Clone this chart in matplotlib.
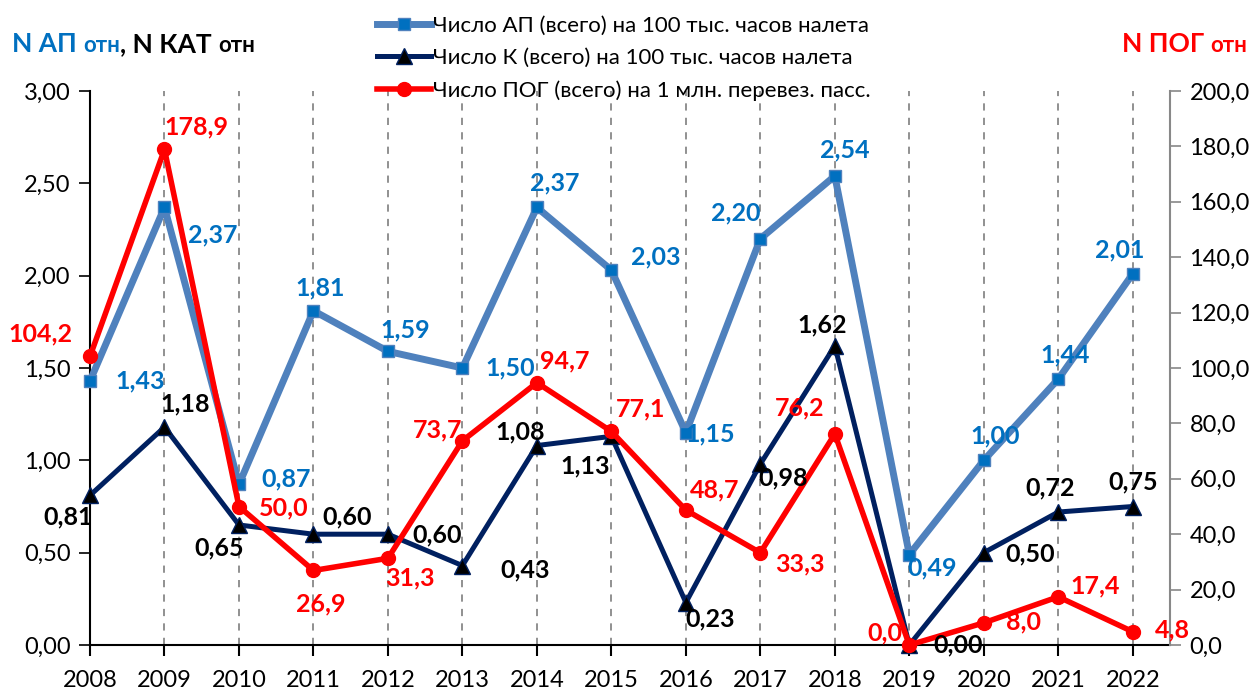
import matplotlib.pyplot as plt
from matplotlib.ticker import FuncFormatter, MultipleLocator

years = list(range(2008, 2023))
n_ap = [1.43, 2.37, 0.87, 1.81, 1.59, 1.50, 2.37, 2.03, 1.15, 2.20, 2.54, 0.49, 1.00, 1.44, 2.01]
n_kat = [0.81, 1.18, 0.65, 0.60, 0.60, 0.43, 1.08, 1.13, 0.23, 0.98, 1.62, 0.00, 0.50, 0.72, 0.75]
n_pog = [104.2, 178.9, 50.0, 26.9, 31.3, 73.7, 94.7, 77.1, 48.7, 33.3, 76.2, 0.0, 8.0, 17.4, 4.8]

# смещения подписей (в пикселях)
off_ap = [(50, 0), (48, -28), (47, 5), (7, 23), (17, 21), (48, 0), (18, 24), (44, 13), (24, -1),
          (-25, 26), (10, 26), (23, -13), (11, 24), (7, 24), (-13, 24)]
off_kat = [(-22, -22), (21, 23), (-20, -23), (34, 17), (49, -1), (63, -4), (-17, 14), (-26, -30),
           (24, -16), (23, -14), (-13, 21), (49, 0), (46, -1), (-8, 24), (0, 25)]
off_pog = [(-50, 22), (32, 23), (45, -1), (7, -33), (22, -20), (-25, 11), (28, 22), (29, 23),
           (29, 20), (40, -11), (-35, 26), (-24, 12), (40, 1), (37, 11), (40, 2)]

plt.rcParams['font.family'] = ['Lato', 'DejaVu Sans']

fig = plt.figure(figsize=(12.58, 6.9), dpi=100)
ax = fig.add_axes([90 / 1258, 1 - 645 / 690, (1170 - 90) / 1258, (645 - 91) / 690])
ax2 = ax.twinx()

ax.set_xlim(2008, 2022.5)
ax.set_ylim(0, 3)
ax2.set_ylim(0, 200)
ax.yaxis.set_major_locator(MultipleLocator(0.5))
ax2.yaxis.set_major_locator(MultipleLocator(20))
ax.yaxis.set_major_formatter(FuncFormatter(lambda v, p: f'{v:.2f}'.replace('.', ',')))
ax2.yaxis.set_major_formatter(FuncFormatter(lambda v, p: f'{v:.1f}'.replace('.', ',')))
ax.set_xticks(years)
ax.tick_params(axis='x', labelsize=17, length=8, width=1.5, pad=10)
ax.tick_params(axis='y', labelsize=17, length=8, width=1.2, pad=6)
ax2.tick_params(axis='y', labelsize=17, length=8, width=1.2, pad=6, color='#888888')

for y in years[1:]:
    ax.axvline(y, color='#888888', linestyle=(0, (4, 4)), linewidth=1.3, zorder=0)

ax.spines['top'].set_visible(False)
ax2.spines['top'].set_visible(False)
ax.spines['left'].set_linewidth(1.5)
ax.spines['bottom'].set_linewidth(1.5)
ax2.spines['left'].set_visible(False)
ax2.spines['bottom'].set_visible(False)
ax2.spines['right'].set_color('#888888')
ax2.spines['right'].set_linewidth(1.5)
ax.spines['right'].set_visible(False)

l1, = ax2.plot(years, [v * 200 / 3 for v in n_ap], color='#4F81BD', linewidth=5, marker='s',
               markersize=9, markerfacecolor='#0070C0', markeredgecolor='#4F81BD', zorder=3,
               label='Число АП (всего) на 100 тыс. часов налета', clip_on=False)
l2, = ax2.plot(years, [v * 200 / 3 for v in n_kat], color='#002060', linewidth=3.6, marker='^',
               markersize=12, markerfacecolor='black', markeredgecolor='#002060', zorder=4,
               label='Число К (всего) на 100 тыс. часов налета', clip_on=False)
l3, = ax2.plot(years, n_pog, color='#FF0000', linewidth=4, marker='o', markersize=10,
               zorder=5, label='Число ПОГ (всего) на 1 млн. перевез. пасс.', clip_on=False)

k = 0.72
for x, v, (dx, dy) in zip(years, n_ap, off_ap):
    ax2.annotate(f'{v:.2f}'.replace('.', ','), (x, v * 200 / 3), xytext=(dx * k, dy * k),
                 textcoords='offset points', ha='center', va='center', fontsize=18,
                 fontweight='bold', color='#0070C0', zorder=6)
for x, v, (dx, dy) in zip(years, n_kat, off_kat):
    ax2.annotate(f'{v:.2f}'.replace('.', ','), (x, v * 200 / 3), xytext=(dx * k, dy * k),
                 textcoords='offset points', ha='center', va='center', fontsize=18,
                 fontweight='bold', color='black', zorder=6)
for x, v, (dx, dy) in zip(years, n_pog, off_pog):
    ax2.annotate(f'{v:.1f}'.replace('.', ','), (x, v), xytext=(dx * k, dy * k),
                 textcoords='offset points', ha='center', va='center', fontsize=18,
                 fontweight='bold', color='#FF0000', zorder=6)

fig.legend(handles=[l1, l2, l3], loc='upper center', bbox_to_anchor=(0.496, 1.0), frameon=False,
           fontsize=16, handlelength=2.4, handletextpad=0.1, labelspacing=0.55, borderaxespad=0.3)

# подписи осей: куски текста друг за другом
renderer = fig.canvas.get_renderer()


def title_parts(x0, parts):
    x = x0
    for txt, color, size in parts:
        t = fig.text(x / 1258, 1 - 52 / 690, txt, color=color, fontsize=size,
                     fontweight='bold', va='baseline')
        x += t.get_window_extent(renderer).width


title_parts(12, [('N АП ', '#0070C0', 19), ('отн', '#0070C0', 16),
                 (', N КАТ ', 'black', 19), ('отн', 'black', 16)])
title_parts(1122, [('N ПОГ ', '#FF0000', 19), ('отн', '#FF0000', 16)])

fig.savefig('out.png', dpi=100)
